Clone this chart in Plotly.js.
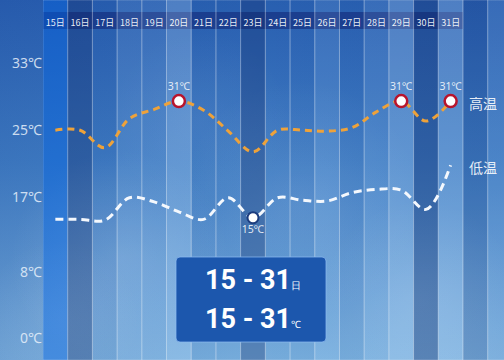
<!DOCTYPE html>
<html><head><meta charset="utf-8">
<script src="https://cdn.plot.ly/plotly-3.0.1.min.js"></script>
<style>html,body{margin:0;padding:0;background:#3a78c4;}#chart{width:504px;height:360px;}</style>
</head><body><div id="chart"></div>
<script>
// ---- data ----
const days = [15,16,17,18,19,20,21,22,23,24,25,26,27,28,29,30,31];
const dayLabels = days.map(d => d + '日');
const highTemps = [25.0,25.0,22.9,26.4,27.5,28.5,27.4,24.9,22.4,25.0,25.0,24.9,25.3,27.2,28.5,26.1,28.5];
const lowTemps  = [14.3,14.3,14.2,16.9,16.4,15.2,14.3,16.9,14.5,16.9,16.6,16.5,17.5,17.9,17.8,15.5,20.8];
const highMarkDays = [20,29,31];
const highMarkText = ['31℃','31℃','31℃'];
const lowMarkDays = [23];
const lowMarkText = ['15℃'];
const yTickVals = [0,8,17,25,33];
const yTickText = ['0℃','8℃','17℃','25℃','33℃'];
const rangeTitle = '15 - 31';
const rangeDayUnit = '日';
const rangeTempUnit = '℃';
const seriesNames = ['高温','低温'];

// ---- styles ----
const stripeX = [15,16,17,18,19,20,21,22,23,24,25,26,27,28,29,30,31,32,33];
const T = {
  vivid:'rgba(0,100,230,0.42)', dark:'rgba(15,40,100,0.33)', mdark:'rgba(15,40,100,0.16)',
  med:'rgba(20,60,140,0.05)', mlight:'rgba(200,230,255,0.10)', light:'rgba(200,230,255,0.24)'
};
const stripeTints = [T.vivid,T.dark,T.med,T.mlight,T.mlight,T.light,T.med,T.med,T.dark,T.med,T.med,T.mlight,T.med,T.mlight,T.light,T.dark,T.light,T.mdark,T.mlight];

const Y0 = -2.58, Y1 = 40.63;
const X0 = 14.5, X1 = 33.16;

function makeSky(){
  const c=document.createElement('canvas'); c.width=504; c.height=360;
  const g=c.getContext('2d');
  const lg=g.createLinearGradient(0,0,0,360);
  lg.addColorStop(0,'#2a61b3'); lg.addColorStop(0.45,'#417fc6'); lg.addColorStop(1,'#7cb2e0');
  g.fillStyle=lg; g.fillRect(0,0,504,360);
  const hg=g.createLinearGradient(0,0,504,0);
  hg.addColorStop(0,'rgba(10,40,120,0.12)'); hg.addColorStop(0.5,'rgba(10,40,120,0)'); hg.addColorStop(1,'rgba(10,40,120,0.05)');
  g.fillStyle=hg; g.fillRect(0,0,504,360);
  const clouds=[[120,260,110,0.14],[300,200,120,0.10],[420,300,100,0.12],[60,320,80,0.10],[200,120,90,0.06]];
  clouds.forEach(([x,y,r,a])=>{
    const rg=g.createRadialGradient(x,y,0,x,y,r);
    rg.addColorStop(0,'rgba(235,245,255,'+a+')'); rg.addColorStop(1,'rgba(235,245,255,0)');
    g.fillStyle=rg; g.fillRect(0,0,504,360);
  });
  return c.toDataURL();
}

const idx = d => days.indexOf(d);

const traces = [
  { type:'bar', x:stripeX, y:stripeX.map(()=>Y1-Y0), base:Y0, width:1,
    marker:{color:stripeTints, line:{color:'rgba(255,255,255,0.28)', width:0.8}},
    hoverinfo:'skip', showlegend:false },
  { type:'scatter', mode:'lines', x:days, y:lowTemps, name:seriesNames[1],
    line:{color:'#f4f8fd', width:3, dash:'8px,5px', shape:'spline', smoothing:1}, showlegend:false },
  { type:'scatter', mode:'lines', x:days, y:highTemps, name:seriesNames[0],
    line:{color:'#eea23a', width:3, dash:'7px,5px', shape:'spline', smoothing:1}, showlegend:false },
  { type:'scatter', mode:'markers+text', x:highMarkDays, y:highMarkDays.map(d=>highTemps[idx(d)]),
    text:highMarkText, textposition:'top center',
    textfont:{family:'Noto Sans, sans-serif', size:10.5, color:'rgba(255,255,255,0.85)'},
    marker:{size:12, color:'#ffffff', line:{color:'#b8142c', width:2.5}}, showlegend:false },
  { type:'scatter', mode:'markers+text', x:lowMarkDays, y:lowMarkDays.map(d=>lowTemps[idx(d)]),
    text:lowMarkText, textposition:'bottom center',
    textfont:{family:'Noto Sans, sans-serif', size:10.5, color:'rgba(255,255,255,0.85)'},
    marker:{size:11, color:'#ffffff', line:{color:'#1c3c7e', width:2}}, showlegend:false }
];

// box geometry (paper coords)
const bx0=(176-43)/461, bx1=(326-43)/461, by0=1-342/360, by1=1-257/360;
const rx=4/461, ry=4/360;
const boxPath = `M ${bx0+rx} ${by0} L ${bx1-rx} ${by0} Q ${bx1} ${by0} ${bx1} ${by0+ry} L ${bx1} ${by1-ry} Q ${bx1} ${by1} ${bx1-rx} ${by1} L ${bx0+rx} ${by1} Q ${bx0} ${by1} ${bx0} ${by1-ry} L ${bx0} ${by0+ry} Q ${bx0} ${by0} ${bx0+rx} ${by0} Z`;

const layout = {
  width:504, height:360,
  margin:{l:43, r:0, t:0, b:0, pad:0},
  paper_bgcolor:'#3a78c4', plot_bgcolor:'rgba(0,0,0,0)',
  showlegend:false, hovermode:false, bargap:0,
  xaxis:{range:[X0,X1], side:'top', tickvals:days, ticktext:dayLabels, ticks:'',
    ticklabelposition:'inside', ticklabelstandoff:17,
    tickfont:{family:'Noto Sans CJK SC, sans-serif', size:9, color:'rgba(255,255,255,0.92)'},
    showgrid:false, zeroline:false, showline:false, fixedrange:true},
  yaxis:{range:[Y0,Y1], tickvals:yTickVals, ticktext:yTickText, ticks:'',
    tickfont:{family:'Noto Sans, Noto Sans CJK SC, sans-serif', size:14, color:'rgba(232,241,251,0.85)'},
    showgrid:false, zeroline:false, showline:false, fixedrange:true},
  images:[{source:makeSky(), xref:'paper', yref:'paper', x:-43/461, y:1, sizex:504/461, sizey:1,
    xanchor:'left', yanchor:'top', sizing:'stretch', layer:'below'}],
  shapes:[
    {type:'rect', xref:'paper', yref:'paper', x0:0, x1:(463-43)/461, y0:1-29/360, y1:1-12/360,
      fillcolor:'rgba(18,40,120,0.6)', line:{width:0}, layer:'below'},
    {type:'path', xref:'paper', yref:'paper', path:boxPath, fillcolor:'#1c57ad',
      line:{color:'rgba(140,185,240,0.75)', width:1}, layer:'above'}
  ],
  annotations:[
    {xref:'paper', yref:'paper', x:(483-43)/461, y:1-103/360, xanchor:'center', yanchor:'middle', text:seriesNames[0], showarrow:false,
      font:{family:'Noto Sans CJK SC', size:14, color:'rgba(255,255,255,0.9)'}},
    {xref:'paper', yref:'paper', x:(483-43)/461, y:1-167/360, xanchor:'center', yanchor:'middle', text:seriesNames[1], showarrow:false,
      font:{family:'Noto Sans CJK SC', size:14, color:'rgba(255,255,255,0.9)'}},
    {xref:'paper', yref:'paper', x:(253-43)/461, y:1-280/360, xanchor:'center', yanchor:'middle', showarrow:false,
      text:'<b>'+rangeTitle+'</b><span style="font-size:10px">'+rangeDayUnit+'</span>',
      font:{family:'Roboto, sans-serif', size:27, color:'#ffffff'}},
    {xref:'paper', yref:'paper', x:(253-43)/461, y:1-319/360, xanchor:'center', yanchor:'middle', showarrow:false,
      text:'<b>'+rangeTitle+'</b><span style="font-size:10px">'+rangeTempUnit+'</span>',
      font:{family:'Roboto, sans-serif', size:27, color:'#ffffff'}}
  ]
};

Plotly.newPlot('chart', traces, layout, {displayModeBar:false, staticPlot:true});
</script></body></html>
